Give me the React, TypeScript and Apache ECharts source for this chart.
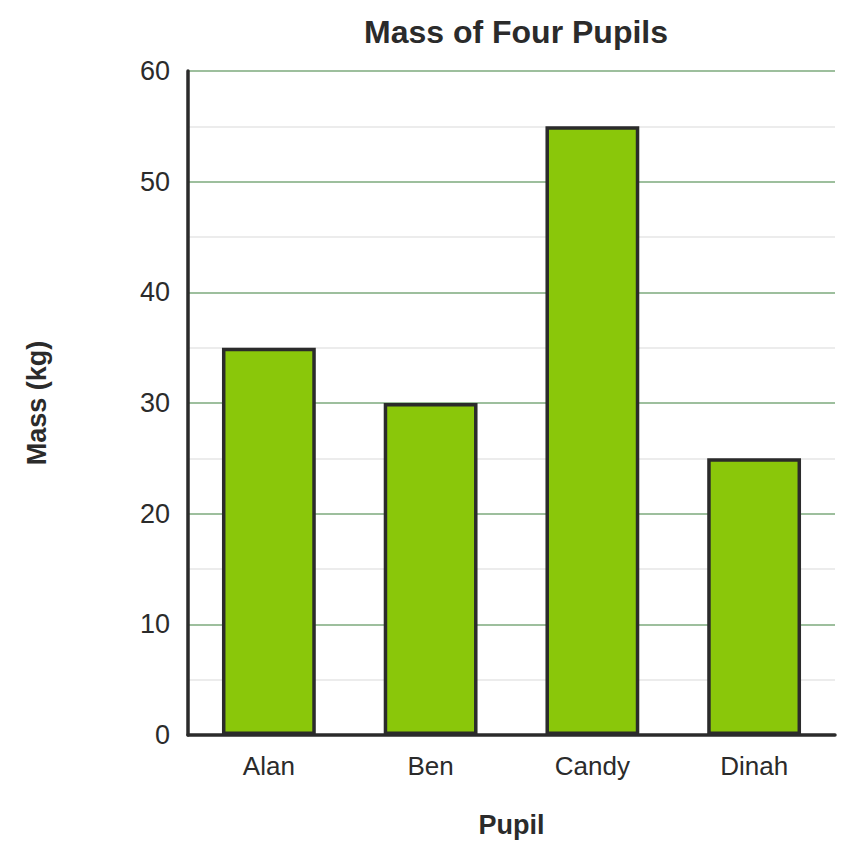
import React, { useEffect, useRef } from "react";
import * as echarts from "echarts";

const categories = ["Alan", "Ben", "Candy", "Dinah"];
const massValues = [35, 30, 55, 25];
const yTicks = [0, 10, 20, 30, 40, 50, 60];

const FONT = "'Liberation Sans', Arial, sans-serif";
const DARK = "#2b2b2b";

export default function App() {
  const ref = useRef<HTMLDivElement>(null);
  useEffect(() => {
    document.body.style.margin = "0";
    if (!ref.current) return;
    const chart = echarts.init(ref.current, undefined, { renderer: "svg" });
    chart.setOption({
      animation: false,
      backgroundColor: "#ffffff",
      textStyle: { fontFamily: FONT },
      title: {
        text: "Mass of Four Pupils",
        left: 511,
        top: 11,
        textAlign: "center",
        textStyle: { fontFamily: FONT, fontSize: 32, fontWeight: "bold", color: DARK },
      },
      grid: { left: 188, right: 21, top: 71, bottom: 126, containLabel: false },
      xAxis: {
        type: "category",
        data: categories,
        name: "Pupil",
        nameLocation: "middle",
        nameGap: 76,
        nameTextStyle: { fontFamily: FONT, fontSize: 27, fontWeight: "bold", color: DARK },
        axisLine: { show: true, lineStyle: { color: DARK, width: 3.5 } },
        axisTick: { show: false },
        axisLabel: { fontFamily: FONT, fontSize: 26, color: DARK, margin: 18 },
        splitLine: { show: false },
      },
      yAxis: {
        type: "value",
        min: yTicks[0],
        max: yTicks[yTicks.length - 1],
        interval: 10,
        name: "Mass (kg)",
        nameLocation: "middle",
        nameGap: 138,
        nameRotate: 90,
        nameTextStyle: { fontFamily: FONT, fontSize: 27, fontWeight: "bold", color: DARK },
        axisLine: { show: true, lineStyle: { color: DARK, width: 3.5 } },
        axisTick: { show: false },
        axisLabel: { fontFamily: FONT, fontSize: 27, color: DARK, margin: 18 },
        splitLine: { show: true, lineStyle: { color: "#9dbf9d", width: 2 } },
        minorTick: { show: false, splitNumber: 2 },
        minorSplitLine: { show: true, lineStyle: { color: "#ececec", width: 2 } },
      },
      series: [
        {
          type: "bar",
          data: massValues,
          barWidth: "58%",
          itemStyle: { color: "#8ac70a", borderColor: DARK, borderWidth: 3.5 },
        },
      ],
    });
    return () => chart.dispose();
  }, []);
  return <div ref={ref} style={{ width: 856, height: 861 }} />;
}
